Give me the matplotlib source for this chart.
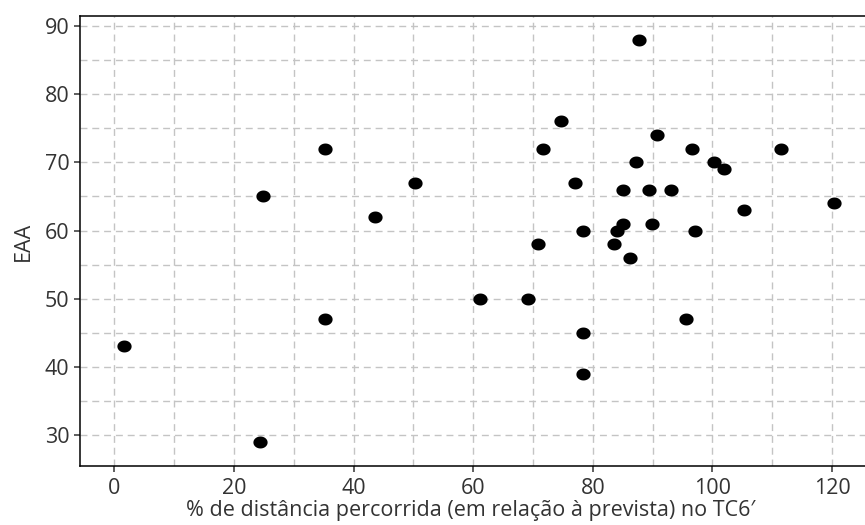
import matplotlib
matplotlib.use("Agg")
import matplotlib.pyplot as plt
import numpy as np
from matplotlib.path import Path
from matplotlib.ticker import MultipleLocator

# Data
pct_distance = [1.6, 24.9, 24.3, 35.2, 35.2, 43.5, 50.3,
                87.8, 74.6, 90.8, 71.6, 96.6, 111.4, 87.3, 100.2, 102.0,
                77.1, 85.0, 89.4, 93.0, 120.4, 105.3, 85.1, 89.9, 78.3,
                84.0, 97.1, 70.8, 83.6, 86.2, 61.2, 69.2, 95.5, 78.3, 78.3]
eaa = [43, 65, 29, 72, 47, 62, 67,
       88, 76, 74, 72, 72, 72, 70, 70, 69,
       67, 66, 66, 66, 64, 63, 61, 61, 60,
       60, 60, 58, 58, 56, 50, 50, 47, 45, 39]

x_ticks = [0, 20, 40, 60, 80, 100, 120]
y_ticks = [30, 40, 50, 60, 70, 80, 90]
x_label = "% de distância percorrida (em relação à prevista) no TC6′"
y_label = "EAA"

plt.rcParams['font.family'] = ['Open Sans', 'DejaVu Sans']
text_color = '#333333'
fs = 15.5

fig = plt.figure(figsize=(8.65, 5.25), dpi=100)
ax = fig.add_axes([80/865, 1 - 466/525, 1 - 80/865 + 0.002, (466 - 16)/525])

t = np.linspace(0, 2*np.pi, 60)
ell = Path(np.column_stack([np.cos(t), 0.84*np.sin(t)]), closed=True)
ax.scatter(pct_distance, eaa, marker=ell, s=105, color='black', zorder=3, linewidths=0)

ax.set_xlim(-5.75, 125.8)
ax.set_ylim(25.45, 91.47)
ax.set_xticks(x_ticks)
ax.set_yticks(y_ticks)
ax.xaxis.set_minor_locator(MultipleLocator(10))
ax.yaxis.set_minor_locator(MultipleLocator(5))

for which in ('major', 'minor'):
    ax.grid(True, which=which, color='#c4c4c4', linestyle=(0, (5, 3.5)), linewidth=1.0, zorder=0)
ax.set_axisbelow(True)

ax.tick_params(which='minor', length=0)
ax.tick_params(axis='x', which='major', pad=4.5)
ax.tick_params(axis='y', which='major', pad=3)
ax.tick_params(which='major', direction='out', length=4.5, width=1.1, color=text_color,
               labelsize=fs, labelcolor=text_color)

for s in ('left', 'bottom', 'top'):
    ax.spines[s].set_linewidth(1.1)
    ax.spines[s].set_color('black')
ax.spines['right'].set_visible(False)

ax.set_xlabel(x_label, fontsize=fs, color=text_color, labelpad=1.5)
ax.xaxis.set_label_coords(0.497, -0.075)
ax.xaxis.label.set_va('top')
ax.set_ylabel(y_label, fontsize=fs, color=text_color, labelpad=8)

fig.savefig("out.png", dpi=100)
